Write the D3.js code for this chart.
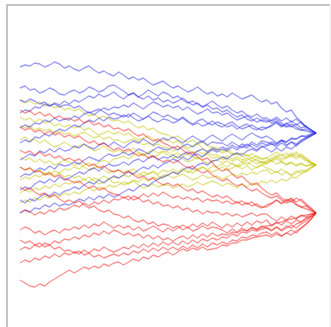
<!DOCTYPE html>
<html>
<head>
<meta charset="utf-8">
<script src="https://cdn.jsdelivr.net/npm/d3@7"></script>
<style>
  html, body { margin: 0; padding: 0; background: #fff; }
  svg { display: block; }
</style>
</head>
<body>
<div id="chart"></div>
<script>
// each walk: 61 samples (pixel-like units, top = small)
const blueWalks = [
  [67, 65,66,63,64,67,65,62,64,68,66, 69,71,68,66,70,73,71,74,76,72, 75,79,77,80,78,82,85,83,81,85, 88,86,89,92,90,87,91,94,92,96, 94,97,93,96,99,97,95,99,102,100, 104,102,108,112,110,117,122,127,130,133],
  [88, 86,90,89,93,91,88,90,94,95,92, 90,93,91,87,89,92,90,86,85,88, 91,95,93,97,99,96,100,98,102,100, 103,101,98,102,105,103,107,104,101,105, 108,106,110,113,111,115,117,114,118,118, 121,119,123,126,124,127,130,129,132,133],
  [113, 110,111,107,108,104,106,103,105,101,104, 100,102,99,96,98,94,97,95,92,96, 99,95,93,97,94,90,93,96,92,94, 98,96,100,103,101,104,107,105,109,108, 112,110,114,117,115,119,121,118,121,122, 120,117,121,118,122,119,123,127,130,133],
  [143, 140,142,137,138,134,136,132,129,131,128, 125,127,123,120,122,118,121,117,119,118, 115,117,113,116,119,116,112,114,117,115, 118,120,117,121,124,121,119,123,125,122, 124,127,125,129,126,124,128,130,127,128, 126,123,127,124,121,125,122,127,130,133],
  [160, 157,154,156,151,153,149,152,148,151,150, 146,148,144,147,149,145,143,146,142,145, 148,144,141,143,139,142,145,141,138,140, 137,140,143,139,136,139,142,138,135,138, 141,137,134,137,140,136,133,136,138,136, 139,143,140,145,142,146,141,138,136,133],
  [177, 174,175,171,168,170,166,169,164,166,165, 162,164,160,157,159,161,157,154,156,155, 152,155,153,149,151,154,150,147,149,150, 147,150,146,144,147,143,141,145,142,143, 143,146,142,145,148,144,147,150,146,149, 152,148,151,147,149,145,142,139,136,133],
  [190, 187,189,184,181,183,179,182,177,180,178, 175,172,174,170,168,171,167,164,166,165, 162,165,161,159,162,158,156,160,157,158, 155,158,154,152,155,151,149,152,148,150, 147,149,145,148,144,146,142,145,141,142, 144,147,143,146,142,144,140,138,135,133],
  [200, 203,199,201,197,194,196,192,195,191,190, 187,189,185,182,184,180,183,179,176,178, 175,172,174,170,167,169,165,168,164,162, 159,161,157,160,156,154,157,153,150,152, 149,151,147,150,146,148,144,147,143,145, 142,144,140,142,138,139,136,137,135,133],
  [213, 210,212,208,209,205,207,203,206,204,205, 202,199,201,197,200,196,198,194,197,195, 192,189,191,187,184,186,182,179,177,175, 172,174,170,167,169,165,163,165,161,160, 157,159,155,153,155,151,149,151,147,146, 144,145,141,142,139,139,136,136,134,133],
  [128, 125,127,123,124,120,122,118,121,119,120, 116,118,114,112,115,111,108,110,107,108, 105,107,103,106,109,105,102,104,107,105, 108,106,110,107,111,114,112,109,113,112, 115,113,117,120,118,116,119,122,120,120, 123,121,125,127,126,129,130,131,132,133],
  [100, 102,99,101,104,102,106,104,107,105,105, 108,106,110,113,111,109,112,115,113,115, 117,114,118,121,119,116,120,122,119,120, 123,121,118,122,125,123,126,124,121,125, 127,124,122,126,129,127,125,128,130,128, 125,122,126,123,127,124,128,126,130,133]
];
const yellowWalks = [
  [100, 103,101,104,102,106,104,108,106,110,108, 111,109,113,116,114,118,116,119,121,120, 123,121,125,128,126,130,128,132,134,135, 138,136,140,142,140,144,142,146,147,148, 151,149,153,155,153,156,154,157,159,158, 155,152,156,153,157,154,158,161,163,165],
  [117, 120,118,122,119,123,121,126,124,127,125, 128,126,130,128,132,135,133,131,134,132, 135,133,137,140,138,136,139,142,140,140, 143,141,145,148,146,144,148,151,149,150, 153,151,155,153,157,155,158,156,159,158, 161,159,162,164,162,165,163,166,164,165],
  [140, 137,141,139,143,140,144,147,145,142,145, 148,146,144,148,151,149,146,150,152,150, 153,151,148,152,155,153,157,155,152,155, 158,156,159,162,160,157,161,163,161,160, 163,161,164,167,165,162,165,168,165,163, 160,157,161,158,155,159,156,160,163,165],
  [157, 160,158,162,159,163,161,165,163,160,162, 165,163,167,170,168,166,170,173,171,170, 173,171,169,173,176,174,172,176,178,175, 178,176,174,177,180,178,175,178,177,176, 179,177,174,176,173,175,172,174,171,170, 174,171,175,172,176,173,170,172,168,165],
  [167, 170,168,172,170,174,172,176,173,177,175, 178,176,180,177,181,184,182,179,183,182, 185,183,181,185,188,186,184,187,185,185, 188,186,184,187,185,182,185,183,181,183, 186,183,185,188,184,187,183,185,181,183, 180,183,179,181,177,178,174,171,168,165],
  [180, 177,179,175,177,173,175,171,173,169,170, 167,169,165,163,166,162,160,163,159,158, 156,159,155,153,156,152,150,153,151,152, 155,153,156,154,157,159,156,154,158,157, 160,158,161,159,162,160,158,161,163,161, 158,155,159,156,153,157,154,158,162,165],
  [193, 190,192,188,190,186,188,184,187,183,184, 181,183,179,182,178,180,176,179,177,178, 175,177,173,176,172,174,171,174,170,172, 169,172,168,171,173,169,167,170,172,170, 167,170,168,165,169,166,170,167,165,168, 170,173,169,172,175,171,173,170,167,165],
  [203, 200,202,198,200,196,198,194,197,193,195, 192,194,190,188,191,187,189,185,187,185, 182,184,180,182,178,181,177,179,175,175, 172,174,170,173,169,171,167,170,166,167, 164,167,163,166,162,165,161,164,162,164, 161,164,162,165,163,166,164,166,165,165],
  [125, 128,126,130,128,131,129,133,131,134,133, 136,134,132,135,138,136,139,137,140,140, 143,141,139,142,145,143,146,144,147,148, 151,149,147,150,153,151,154,152,155,155, 158,156,159,157,160,158,161,159,162,162, 160,157,154,158,155,152,156,159,162,165]
];
const redWalks = [
  [110, 113,111,115,112,116,114,118,116,119,118, 121,119,123,121,125,123,127,125,129,128, 131,129,133,136,134,138,141,139,143,145, 148,146,150,154,152,157,160,158,163,168, 171,169,174,178,176,181,185,183,188,192, 195,193,198,201,199,204,207,206,210,213],
  [127, 130,128,132,130,134,131,135,133,137,135, 138,136,140,143,141,145,143,147,150,148, 151,149,153,156,154,158,156,159,162,160, 163,161,165,168,166,170,173,171,175,178, 181,179,183,186,184,188,191,189,193,196, 198,196,200,203,201,205,207,209,211,213],
  [150, 153,151,155,152,156,154,158,156,160,158, 161,159,163,166,164,168,166,170,172,170, 173,171,175,178,176,180,178,182,185,183, 186,184,188,191,189,193,191,194,197,195, 198,196,200,203,201,204,202,206,208,205, 203,200,204,201,198,202,199,204,208,213],
  [167, 170,168,172,171,175,173,177,175,179,180, 183,181,185,188,186,190,188,192,194,195, 198,196,200,198,202,200,204,202,206,205, 208,206,210,208,212,210,214,211,213,212, 215,213,216,214,217,215,213,216,214,214, 218,221,217,220,216,219,215,217,214,213],
  [187, 190,188,192,195,193,197,195,199,202,200, 203,201,205,208,206,210,212,210,214,215, 218,216,220,222,220,224,222,226,224,225, 228,226,230,227,231,229,226,229,227,228, 230,233,229,232,228,231,227,230,226,228, 231,227,230,226,228,224,222,219,216,213],
  [213, 210,212,215,212,214,210,212,208,210,208, 205,207,203,206,202,204,200,203,199,200, 197,200,196,198,194,197,193,196,192,195, 198,196,199,197,200,198,202,199,201,200, 203,201,204,202,205,203,206,204,207,207, 204,200,203,199,202,198,201,205,209,213],
  [230, 227,229,233,231,235,232,230,233,229,230, 227,229,225,228,224,226,222,225,228,225, 228,226,230,227,231,229,226,229,232,228, 231,228,225,228,224,227,223,226,222,225, 228,224,227,223,226,222,225,221,223,220, 226,222,225,221,224,220,222,218,216,213],
  [240, 243,241,245,243,247,245,249,247,251,250, 253,251,255,253,257,255,258,256,254,256, 253,255,251,253,249,252,248,251,247,250, 247,250,246,249,245,248,244,247,243,245, 242,244,240,241,237,238,235,236,233,232, 235,232,236,233,230,233,228,224,219,213],
  [263, 260,262,258,260,256,258,254,257,253,255, 252,254,250,253,249,251,247,250,252,250, 247,249,245,248,244,247,243,246,242,245, 242,245,241,244,240,243,239,241,238,240, 237,238,234,236,232,233,230,231,229,228, 230,227,231,228,225,228,224,221,217,213],
  [280, 283,286,287,284,286,282,279,276,273,270, 273,270,267,269,266,268,264,266,263,262, 265,262,259,261,257,259,255,257,254,252, 255,252,249,251,248,250,247,250,249,248, 245,246,243,243,240,240,238,237,236,235, 237,234,236,233,235,231,228,224,219,213],
  [250, 247,249,245,247,243,245,241,243,239,240, 237,239,235,237,233,235,231,234,230,232, 235,233,236,234,238,235,239,236,240,238, 241,238,236,239,235,238,234,237,233,236, 234,235,232,233,230,231,228,229,227,226, 225,223,222,220,219,218,216,215,214,213]
];

const width = 331, height = 327;

const svg = d3.select('#chart')
  .append('svg')
  .attr('width', width)
  .attr('height', height);

// frame: strong left/top edge, faint right edge
svg.append('path')
  .attr('d', 'M7,327V5H330')
  .attr('fill', 'none')
  .attr('stroke', '#c4c4c4')
  .attr('stroke-width', 2);
svg.append('line')
  .attr('x1', 330).attr('y1', 5)
  .attr('x2', 330).attr('y2', 327)
  .attr('stroke', '#e6e6e6')
  .attr('stroke-width', 1);

const x = d3.scaleLinear().domain([0, 60]).range([20, 316]);
const y = d3.scaleLinear().domain([0, 327]).range([0, 327]);

const line = d3.line()
  .x((d, i) => x(i))
  .y(d => y(d));

const groups = [
  { walks: yellowWalks, color: '#c4c400' },
  { walks: blueWalks, color: '#2a2ae6' },
  { walks: redWalks, color: '#f01414' }
];

groups.forEach(g => {
  svg.append('g')
    .selectAll('path')
    .data(g.walks)
    .enter()
    .append('path')
    .attr('d', line)
    .attr('fill', 'none')
    .attr('stroke', g.color)
    .attr('stroke-opacity', 0.45)
    .attr('stroke-width', 1.4)
    .attr('stroke-linejoin', 'round');
});
</script>
</body>
</html>
